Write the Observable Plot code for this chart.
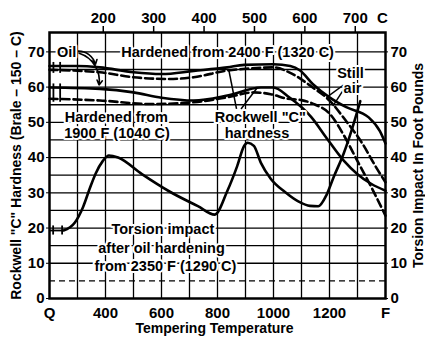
<!DOCTYPE html>
<html><head><meta charset="utf-8">
<script src="https://cdn.jsdelivr.net/npm/d3@7"></script>
<script src="https://cdn.jsdelivr.net/npm/@observablehq/plot@0.6"></script>
<style>
body{margin:0;background:#fff}
#chart svg{font-family:"Liberation Sans",Arial,sans-serif;background:#fff}
</style>
</head><body><div id="chart"></div>
<script>
// ---- axes ----
const xDomain = [200, 1400];           // tempering temperature, F (Q = as quenched)
const yDomain = [0, 75.5];
const xTicks = [200, 400, 600, 800, 1000, 1200, 1400];
const xTickLabels = ["Q", "400", "600", "800", "1000", "1200", "F"];
const cTicks = [200, 300, 400, 500, 600, 700];   // top axis, degrees C
const yTicks = [0, 10, 20, 30, 40, 50, 60, 70];
const gridX = [300, 400, 500, 600, 700, 800, 900, 1000, 1100, 1200, 1300];
const gridYSolid = [10, 15, 20, 25, 30, 35, 40, 45, 50, 55, 60, 65, 70];
const gridYDashed = [5];
const qMarkF = [214, 238];
const qMarkTorsionF = [213, 245];

// ---- Rockwell "C" hardness, hardened from 2400 F, oil (solid) ----
const oil2400F   = [200, 300, 380, 500, 600, 715, 835, 895, 1000, 1060, 1095, 1140, 1200, 1260, 1340, 1380, 1400];
const oil2400HRC = [66, 66, 65.6, 64.2, 63.7, 64.6, 65.6, 66.3, 66.5, 66, 64.7, 60.9, 57.1, 54.3, 51.4, 47.5, 44];
// ---- hardened from 2400 F, still air (dashed) ----
const air2400F   = [200, 380, 500, 630, 715, 835, 900, 1000, 1056, 1140, 1200, 1258, 1318, 1366, 1400];
const air2400HRC = [64.9, 64.2, 62.8, 62.3, 62.8, 64.7, 65.2, 65.6, 64.2, 59.9, 56.2, 50.5, 43.9, 37.3, 33];
// ---- hardened from 1900 F, oil (solid) ----
const oil1900F   = [200, 380, 500, 600, 715, 835, 955, 1000, 1056, 1135, 1190, 1250, 1300, 1350, 1400];
const oil1900HRC = [59.9, 59.5, 58.5, 57, 56.2, 57.6, 59.9, 59.9, 57.1, 51.5, 45.5, 39.2, 35.3, 32.5, 30.6];
// ---- hardened from 1900 F, still air (dashed) ----
const air1900F   = [200, 380, 560, 715, 835, 930, 990, 1050, 1100, 1150, 1200, 1250, 1300, 1350, 1400];
const air1900HRC = [56.7, 56.2, 55.2, 55.7, 57.1, 58.5, 58, 56.7, 56.3, 55, 52.5, 46.5, 39, 31.5, 23.5];
// ---- torsion impact after oil hardening from 2350 F, ft-lb ----
const torsionF    = [250, 290, 320, 345, 365, 390, 412, 445, 530, 630, 730, 790, 835, 870, 895, 908, 930, 955, 990, 1040, 1090, 1130, 1160, 1190, 1215, 1250, 1280, 1310];
const torsionFtLb = [19.3, 21.5, 26, 31.5, 35.5, 39, 40.6, 40, 35.3, 30.3, 26.2, 23.8, 30.5, 37.5, 43.3, 44.2, 43.3, 38.5, 34, 30.3, 27.5, 26.3, 26.2, 29.5, 34.5, 41, 48, 56];

// ---- annotations ----
const noteText = ["Oil", "Hardened from 2400 F (1320 C)", "Hardened from", "1900 F (1040 C)",
  "Rockwell \"C\"", "hardness", "Still", "air", "Torsion impact", "after oil hardening", "from 2350 F (1290 C)"];
const noteF = [261, 836, 439, 441, 953, 941, 1275, 1282, 605, 600, 614];
const noteV = [69.8, 69.8, 51.3, 47, 51.3, 47, 63.8, 59.6, 19.5, 14.2, 9.2];
// pointer lines [x1, y1, x2, y2]
const oilArrows = [[300, 70.2, 364, 66.4], [306, 69.6, 377, 60.6]];
const rockwellLinks = [[868, 53.8, 840, 65], [884, 53.8, 942, 59.8]];
const stillAirLinks = [[1250, 60.6, 1192, 57.2], [1256, 60, 1212, 54.6]];

const leftTitle = "Rockwell \"C\" Hardness (Brale – 150 – C)";
const rightTitle = "Torsion Impact In Foot Pounds";
const bottomTitle = "Tempering Temperature";
const topUnit = "C";

const rows = (fs, vs) => fs.map((f, i) => ({f, v: vs[i]}));
const seg = a => a.map(([x1, y1, x2, y2]) => ({x1, y1, x2, y2}));
const notes = noteText.map((t, i) => ({t, f: noteF[i], v: noteV[i]}));
const xLabel = new Map(xTicks.map((d, i) => [d, xTickLabels[i]]));
const cToF = c => c * 9 / 5 + 32;
const fToC = f => Math.round((f - 32) * 5 / 9);
const font = {fontSize: 15, fontWeight: "bold", fill: "#000"};
const titleFont = {fontSize: 14, fontWeight: "bold", fill: "#000", textAnchor: "middle", lineAnchor: "middle"};
const curve = {x: "f", y: "v", stroke: "#000", strokeWidth: 2.6, curve: "monotone-x"};

const chart = Plot.plot({
  width: 425, height: 340,
  marginLeft: 49, marginRight: 40, marginTop: 32, marginBottom: 42,
  x: {domain: xDomain},
  y: {domain: yDomain},
  style: {fontFamily: "Liberation Sans, Arial, sans-serif", color: "#000"},
  marks: [
    Plot.ruleY(gridYSolid, {stroke: "#000", strokeWidth: 1.3}),
    Plot.ruleY(gridYDashed, {stroke: "#000", strokeWidth: 1.3, strokeDasharray: "6,4"}),
    Plot.ruleX(gridX, {stroke: "#000", strokeWidth: 1.3}),
    Plot.line(rows(oil2400F, oil2400HRC), curve),
    Plot.line(rows(air2400F, air2400HRC), {...curve, strokeDasharray: "8,4"}),
    Plot.line(rows(oil1900F, oil1900HRC), curve),
    Plot.line(rows(air1900F, air1900HRC), {...curve, strokeDasharray: "8,4"}),
    Plot.line(rows(torsionF, torsionFtLb), curve),
    // as-quenched markers
    Plot.ruleX(qMarkF, {y1: air2400HRC[0] - 1, y2: oil2400HRC[0] + 1, stroke: "#000", strokeWidth: 1.8}),
    Plot.ruleX(qMarkF, {y1: air1900HRC[0] - 1, y2: oil1900HRC[0] + 1, stroke: "#000", strokeWidth: 1.8}),
    Plot.ruleX(qMarkTorsionF, {y1: torsionFtLb[0] - 1.3, y2: torsionFtLb[0] + 1.3, stroke: "#000", strokeWidth: 1.8}),
    Plot.ruleY([torsionFtLb[0]], {x1: xDomain[0], x2: torsionF[0], stroke: "#000", strokeWidth: 1.8}),
    // pointers
    Plot.arrow(seg(oilArrows), {x1: "x1", y1: "y1", x2: "x2", y2: "y2", bend: 40, headLength: 5, stroke: "#000", strokeWidth: 1.6}),
    Plot.link(seg(rockwellLinks), {x1: "x1", y1: "y1", x2: "x2", y2: "y2", stroke: "#000", strokeWidth: 1.5}),
    Plot.link(seg(stillAirLinks), {x1: "x1", y1: "y1", x2: "x2", y2: "y2", stroke: "#000", strokeWidth: 1.5}),
    Plot.text(notes, {x: "f", y: "v", text: "t", fontSize: 14.5, fontWeight: "bold", fill: "#000", stroke: "#fff", strokeWidth: 4}),
    Plot.frame({stroke: "#000", strokeWidth: 2.5}),
    Plot.axisY(yTicks, {anchor: "left", tickSize: 3, tickPadding: 2, label: null, ...font}),
    Plot.axisY(yTicks, {anchor: "right", tickSize: 2, tickPadding: 3, label: null, ...font}),
    Plot.axisX(xTicks, {anchor: "bottom", tickSize: 0, tickPadding: 9, label: null, tickFormat: d => xLabel.get(d), ...font}),
    Plot.axisX(cTicks.map(cToF), {anchor: "top", tickSize: 7, tickPadding: 3, label: null, tickFormat: d => String(fToC(d)), strokeWidth: 1.5, ...font}),
    Plot.text([topUnit], {x: () => xDomain[1], frameAnchor: "top", lineAnchor: "bottom", dy: -10, dx: -3, text: d => d, ...font}),
    Plot.text([leftTitle], {frameAnchor: "left", dx: -33, rotate: -90, text: d => d, ...titleFont}),
    Plot.text([rightTitle], {frameAnchor: "right", dx: 33, rotate: -90, text: d => d, ...titleFont}),
    Plot.text([bottomTitle], {frameAnchor: "bottom", dy: 30, dx: -3, text: d => d, ...titleFont})
  ]
});
document.getElementById("chart").appendChild(chart);
</script>
</body></html>
